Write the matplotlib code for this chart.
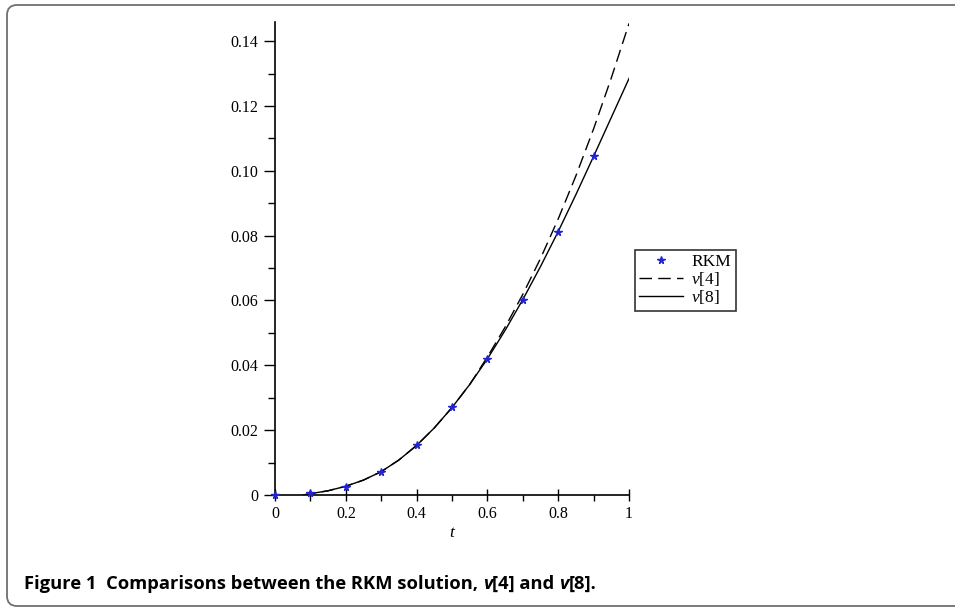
import matplotlib
matplotlib.use("Agg")
import matplotlib.pyplot as plt
import matplotlib.ticker as ticker
from matplotlib.patches import FancyBboxPatch
from matplotlib.transforms import IdentityTransform

# RKM solution points
t_rkm = [0.0, 0.1, 0.2, 0.3, 0.4, 0.5, 0.6, 0.7, 0.8, 0.9]
v_rkm = [0.0, 0.0006, 0.0025, 0.0072, 0.0154, 0.0270, 0.0420, 0.0603, 0.0812, 0.1045]

# series
t_line = [0.08, 0.10, 0.15, 0.20, 0.25, 0.30, 0.35, 0.40, 0.45, 0.50,
          0.55, 0.60, 0.65, 0.70, 0.75, 0.80, 0.85, 0.90, 0.95, 1.00]
v4 = [0.0, 0.0004, 0.0013, 0.0027, 0.0046, 0.0072, 0.0108, 0.0153, 0.0207, 0.0270,
      0.0341, 0.0426, 0.0518, 0.0619, 0.0730, 0.0852, 0.0985, 0.1130, 0.1287, 0.1455]
v8 = [0.0, 0.0004, 0.0013, 0.0027, 0.0046, 0.0072, 0.0108, 0.0153, 0.0207, 0.0270,
      0.0341, 0.0420, 0.0508, 0.0603, 0.0705, 0.0813, 0.0927, 0.1045, 0.1165, 0.1285]

xticks = [0, 0.2, 0.4, 0.6, 0.8, 1.0]
xticklabels = ["0", "0.2", "0.4", "0.6", "0.8", "1"]
yticks = [0, 0.02, 0.04, 0.06, 0.08, 0.10, 0.12, 0.14]
yticklabels = ["0", "0.02", "0.04", "0.06", "0.08", "0.10", "0.12", "0.14"]

serif = "Liberation Serif"
plt.rcParams["mathtext.fontset"] = "custom"
plt.rcParams["mathtext.rm"] = serif
plt.rcParams["mathtext.it"] = serif + ":italic"

fig = plt.figure(figsize=(9.55, 6.08), dpi=100)
ax = fig.add_axes([0.288, 0.1859, 0.3707, 0.7784])

ax.plot(t_line, v4, color="black", lw=1.0, linestyle=(0, (9, 4.5)), label="$v$[4]")
ax.plot(t_line, v8, color="black", lw=1.0, label="$v$[8]")
ax.plot(t_rkm, v_rkm, linestyle="none", marker="*", markersize=5.5,
        color="#2323d0", label="RKM", zorder=5, clip_on=False)

ax.set_xlim(0, 1)
ax.set_ylim(0, 0.146)
for s in ["top", "right"]:
    ax.spines[s].set_visible(False)
ax.spines["left"].set_linewidth(1.2)
ax.spines["bottom"].set_linewidth(1.2)

ax.set_xticks(xticks)
ax.set_xticklabels(xticklabels)
ax.set_yticks(yticks)
ax.set_yticklabels(yticklabels)
ax.xaxis.set_minor_locator(ticker.MultipleLocator(0.1))
ax.yaxis.set_minor_locator(ticker.MultipleLocator(0.01))
ax.tick_params(axis="x", which="major", direction="inout", length=8, width=1, pad=4)
ax.tick_params(axis="x", which="minor", direction="out", length=4, width=1)
ax.tick_params(axis="y", which="major", direction="out", length=8, width=1, pad=4)
ax.tick_params(axis="y", which="minor", direction="out", length=5, width=1)
for lab in ax.get_xticklabels() + ax.get_yticklabels():
    lab.set_fontfamily(serif)
    lab.set_fontsize(11.5)

ax.set_xlabel("t", family=serif, style="italic", fontsize=12.5, labelpad=2)

handles, labels = ax.get_legend_handles_labels()
order = [2, 0, 1]
leg = fig.legend([handles[i] for i in order], [labels[i] for i in order],
                 loc="upper left", bbox_to_anchor=(0.665, 0.589),
                 prop={"family": serif, "size": 12.5}, frameon=True,
                 fancybox=False, edgecolor="black", borderpad=0.25,
                 labelspacing=0.0, handlelength=2.5, handletextpad=0.5,
                 numpoints=1, borderaxespad=0)
leg.get_frame().set_linewidth(1.2)

# rounded frame round the figure
frame = FancyBboxPatch((7, 2), 1000, 601, boxstyle="round,pad=0,rounding_size=10",
                       transform=IdentityTransform(), facecolor="none",
                       edgecolor="#707070", lw=1.3)
fig.patches.append(frame)

# caption, pieced together so v can be italic
caption = [("Figure 1  Comparisons between the RKM solution, ", "normal"),
           ("v", "italic"), ("[4] and ", "normal"), ("v", "italic"), ("[8].", "normal")]
renderer = fig.canvas.get_renderer()
x = 24
for txt, st in caption:
    t = fig.text(x / 955, 0.031, txt, family="Open Sans", weight="bold",
                 style=st, fontsize=13.2, va="baseline", ha="left")
    x = t.get_window_extent(renderer).x1

fig.savefig("out.png", dpi=100)
